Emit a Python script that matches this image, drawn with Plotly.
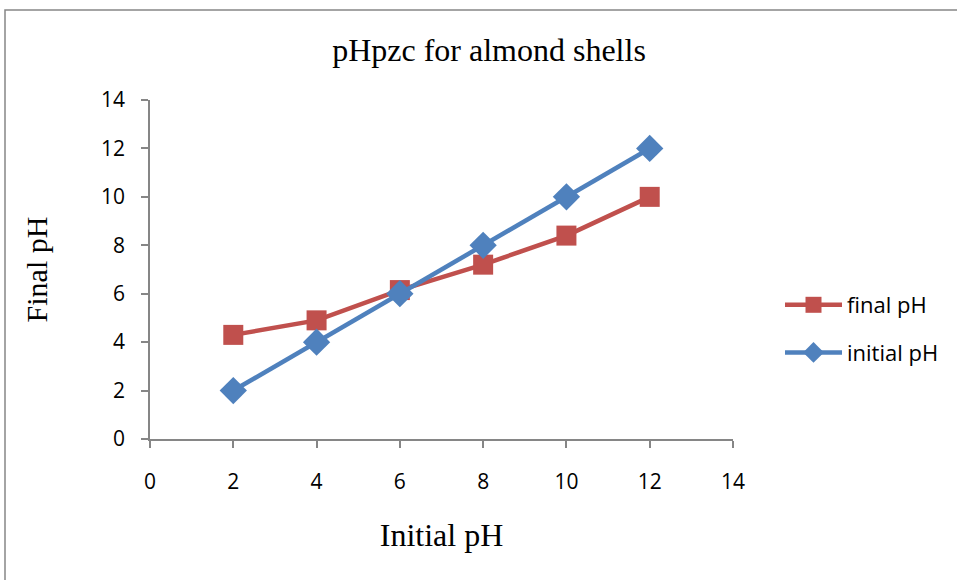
import plotly.graph_objects as go

x_vals = [2, 4, 6, 8, 10, 12]
final_ph = [4.3, 4.9, 6.15, 7.2, 8.4, 10.0]
initial_ph = [2, 4, 6, 8, 10, 12]
tick_vals = [0, 2, 4, 6, 8, 10, 12, 14]

RED = "#C0504D"
BLUE = "#4F81BD"
GREY = "#868686"

fig = go.Figure()
fig.add_trace(go.Scatter(x=x_vals, y=final_ph, name="final pH", mode="lines+markers",
                         legendgroup="f",
                         line=dict(color=RED, width=4.5),
                         marker=dict(symbol="square", size=20, color=RED)))
fig.add_trace(go.Scatter(x=x_vals, y=initial_ph, name="initial pH", mode="lines+markers",
                         legendgroup="i",
                         line=dict(color=BLUE, width=4.5),
                         marker=dict(symbol="diamond", size=21, color=BLUE)))

fig.update_layout(
    width=957, height=580,
    margin=dict(l=150, r=224, t=100, b=141),
    paper_bgcolor="white", plot_bgcolor="white",
    title=dict(text="pHpzc for almond shells", x=489 / 957, xanchor="center",
               y=1 - 50 / 580, yanchor="middle",
               font=dict(family="Liberation Serif", size=32, color="black")),
    font=dict(family="Open Sans", size=21, color="black"),
    legend=dict(x=(780 - 150) / 583, xanchor="left", xref="paper",
                y=(439 - 329) / 339, yanchor="middle",
                font=dict(family="Open Sans", size=22, color="black"),
                tracegroupgap=16, itemwidth=57, bgcolor="rgba(0,0,0,0)"),
    showlegend=True,
)
fig.update_xaxes(range=[0, 14], tickvals=tick_vals, showgrid=False, zeroline=False,
                 showline=True, linecolor=GREY, linewidth=1.5,
                 ticks="outside", ticklen=7, tickcolor=GREY, tickwidth=1.5,
                 ticklabelstandoff=16,
                 title=dict(text="Initial pH", standoff=30,
                            font=dict(family="Liberation Serif", size=32, color="black")))
fig.update_yaxes(range=[0, 14], tickvals=tick_vals, showgrid=False, zeroline=False,
                 showline=True, linecolor=GREY, linewidth=1.5,
                 ticks="outside", ticklen=7, tickcolor=GREY, tickwidth=1.5,
                 ticklabelstandoff=12,
                 title=dict(text="Final pH", standoff=45,
                            font=dict(family="Liberation Serif", size=30, color="black")))

# outer chart border
fig.add_shape(type="rect", xref="paper", yref="paper",
              x0=-145 / 583, x1=1.5, y0=-0.6, y1=1 + 90 / 339,
              line=dict(color=GREY, width=1.5), fillcolor="rgba(0,0,0,0)", layer="below")

fig.write_html("out.html")
